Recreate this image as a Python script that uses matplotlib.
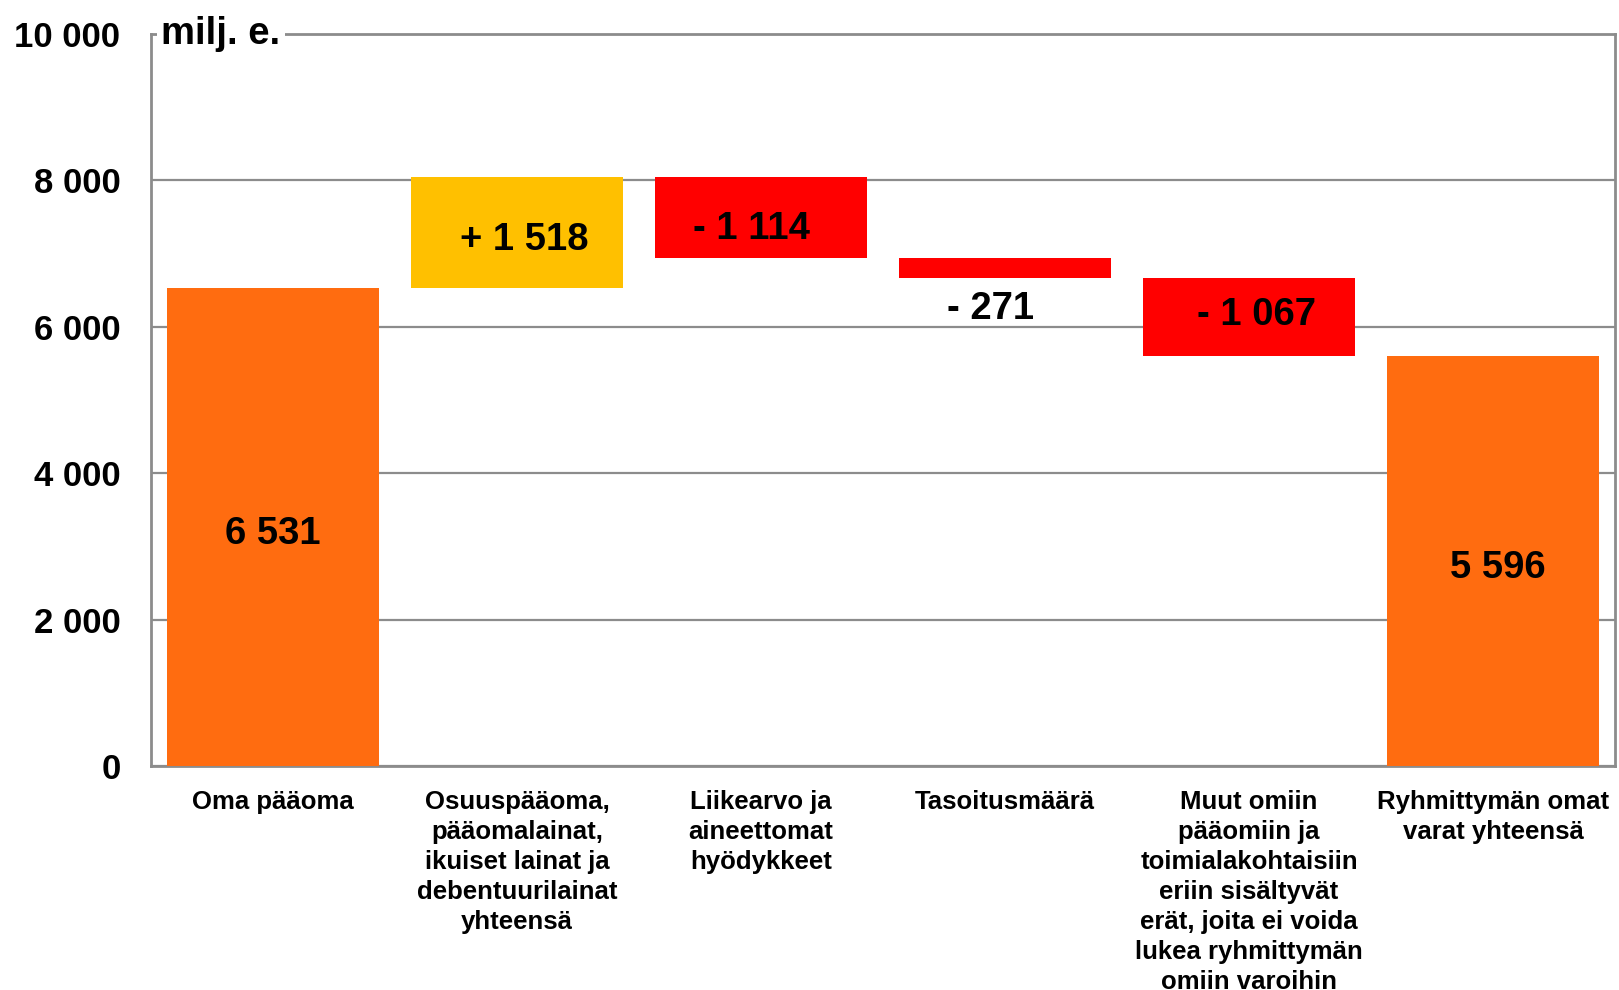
import matplotlib
matplotlib.use("Agg")
import matplotlib.pyplot as plt

plt.rcParams['font.family'] = ['Liberation Sans', 'DejaVu Sans']
plt.rcParams['font.weight'] = 'bold'

categories = [
    "Oma pääoma",
    "Osuuspääoma,\npääomalainat,\nikuiset lainat ja\ndebentuurilainat\nyhteensä",
    "Liikearvo ja\naineettomat\nhyödykkeet",
    "Tasoitusmäärä",
    "Muut omiin\npääomiin ja\ntoimialakohtaisiin\neriin sisältyvät\nerät, joita ei voida\nlukea ryhmittymän\nomiin varoihin",
    "Ryhmittymän omat\nvarat yhteensä",
]
values = [6531, 1518, -1114, -271, -1067, 5596]
labels = ["6 531", "+ 1 518", "- 1 114", "- 271", "- 1 067", "5 596"]
kinds = ["total", "delta", "delta", "delta", "delta", "total"]
colors = ["#FF6C10", "#FFC000", "#FF0000", "#FF0000", "#FF0000", "#FF6C10"]
yticks = [0, 2000, 4000, 6000, 8000, 10000]
ytick_labels = ["0", "2 000", "4 000", "6 000", "8 000", "10 000"]

# label placement tweaks (style): (x offset in bar units, y offset in data units)
label_dx = [0.0, 0.03, -0.04, -0.06, 0.03, 0.02]
label_dy = [-100, -110, -150, -420, 30, -90]

fig = plt.figure(figsize=(16.19, 9.9), dpi=100)
ax = fig.add_axes([151/1619, 1 - 766/990, 1464/1619, 732/990])

grid_c = "#8C8C8C"
running = 0
bottoms, heights = [], []
for v, k in zip(values, kinds):
    if k == "total":
        bottoms.append(0)
        heights.append(v)
        running = v
    else:
        if v >= 0:
            bottoms.append(running)
            heights.append(v)
        else:
            bottoms.append(running + v)
            heights.append(-v)
        running += v

x = list(range(len(values)))
ax.bar(x, heights, bottom=bottoms, width=0.865, color=colors, zorder=3)

for i, (b, h, lab) in enumerate(zip(bottoms, heights, labels)):
    if i == 3:
        y = b + label_dy[i]
    else:
        y = b + h / 2 + label_dy[i]
    ax.text(i + label_dx[i], y, lab, ha="center", va="center", fontsize=27.5,
            fontweight="bold", color="black", zorder=4)

ax.set_xlim(-0.5, len(values) - 0.5)
ax.set_ylim(0, 10000)
ax.set_yticks(yticks)
ax.set_yticklabels(ytick_labels, fontsize=25, fontweight="bold")
ax.set_xticks(x)
ax.set_xticklabels(categories, fontsize=18.5, fontweight="bold", linespacing=1.32)
ax.tick_params(axis="y", length=0, pad=22)
ax.tick_params(axis="x", length=0, pad=17)

ax.yaxis.grid(True, color=grid_c, linewidth=1.6, zorder=0)
ax.set_axisbelow(True)
for s in ax.spines.values():
    s.set_color(grid_c)
    s.set_linewidth(2)

ax.text(0.007, 1.0, "milj. e.", transform=ax.transAxes, ha="left", va="center",
        fontsize=27.5, fontweight="bold", color="black",
        bbox=dict(facecolor="white", edgecolor="none", pad=3), zorder=5)

fig.savefig("out.png", dpi=100)
